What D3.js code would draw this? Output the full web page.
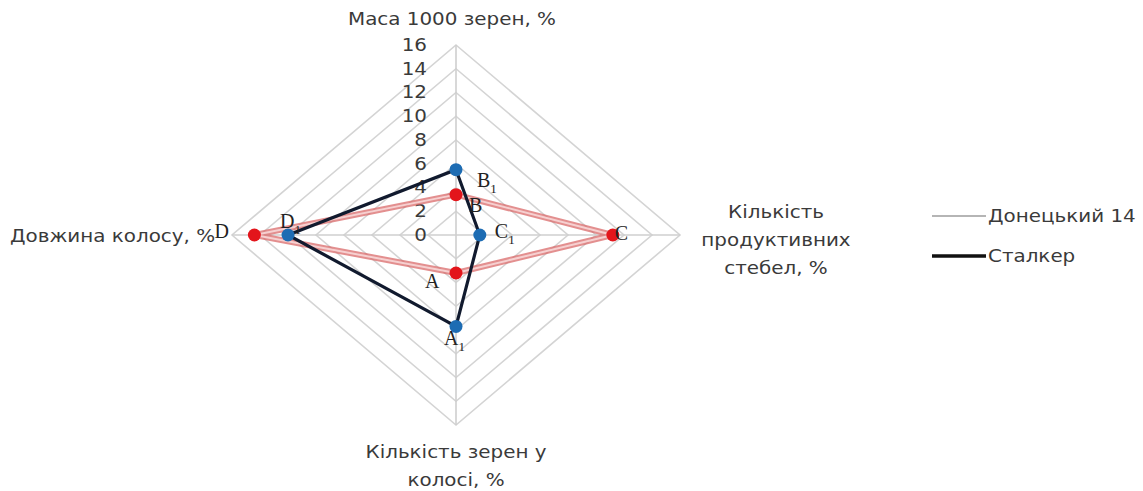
<!DOCTYPE html>
<html><head><meta charset="utf-8">
<script src="https://cdn.jsdelivr.net/npm/d3@7"></script>
<style>body{margin:0;background:#fff}svg{display:block}</style>
</head><body>
<script>
const categories = ["Маса 1000 зерен, %", "Кількість продуктивних стебел, %", "Кількість зерен у колосі, %", "Довжина колосу, %"];
const seriesNames = ["Донецький 14", "Сталкер"];
const doneckyi = [3.4, 11.2, 3.2, 14.4];
const stalker = [5.5, 1.7, 7.7, 12.0];
const tickValues = [0, 2, 4, 6, 8, 10, 12, 14, 16];
const pointLabelsRed = ["B", "C", "A", "D"];
const pointLabelsBlue = ["B", "C", "A", "D"];

const W = 1143, H = 491;
const cx = 456, cy = 235;
const SX = 1.17; // horizontal stretch of text seen in the reference
const svg = d3.select("body").append("svg").attr("width", W).attr("height", H);
const rx = d3.scaleLinear().domain([0, 16]).range([0, 224]);
const ry = d3.scaleLinear().domain([0, 16]).range([0, 190]);
const dirs = [[0, -1], [1, 0], [0, 1], [-1, 0]];
const pt = (i, v) => [cx + dirs[i][0] * rx(v), cy + dirs[i][1] * ry(v)];
const sans = "'DejaVu Sans', Verdana, sans-serif";
const serif = "'Liberation Serif', 'DejaVu Serif', serif";
const txtColor = "#3a3a3a";

// stretched text helper
const sText = (parent, x, y, anchor, size) => parent.append("g")
  .attr("transform", `translate(${x},${y}) scale(${SX},1)`)
  .append("text").attr("x", 0).attr("y", 0).attr("text-anchor", anchor)
  .attr("font-family", sans).attr("font-size", size).attr("fill", txtColor);

const g = svg.append("g");
tickValues.slice(1).forEach(t => {
  g.append("path").attr("d", d3.line()(d3.range(4).map(i => pt(i, t))) + "Z")
    .attr("fill", "none").attr("stroke", "#d4d4d4").attr("stroke-width", 1.6);
});
d3.range(4).forEach(i => {
  const [x, y] = pt(i, 16);
  g.append("line").attr("x1", cx).attr("y1", cy).attr("x2", x).attr("y2", y)
    .attr("stroke", "#cfcfcf").attr("stroke-width", 1.6);
});
tickValues.forEach(t => {
  sText(g, cx - 29, pt(0, t)[1], "end", 17).attr("dy", "0.35em").text(t);
});

const line = d3.line().curve(d3.curveLinearClosed);
const redPts = doneckyi.map((v, i) => pt(i, v));
const bluePts = stalker.map((v, i) => pt(i, v));

g.append("path").attr("d", line(redPts)).attr("fill", "none")
  .attr("stroke", "#d96a6a").attr("stroke-width", 6).attr("stroke-opacity", 0.75).attr("stroke-linejoin", "round");
g.append("path").attr("d", line(redPts)).attr("fill", "none")
  .attr("stroke", "#f6d0d0").attr("stroke-width", 2).attr("stroke-linejoin", "round");
g.append("path").attr("d", line(bluePts)).attr("fill", "none")
  .attr("stroke", "#111a2e").attr("stroke-width", 3.2).attr("stroke-linejoin", "miter");

redPts.forEach(([x, y]) => g.append("circle").attr("cx", x).attr("cy", y).attr("r", 6.5).attr("fill", "#e3151b"));
bluePts.forEach(([x, y]) => g.append("circle").attr("cx", x).attr("cy", y).attr("r", 6.5).attr("fill", "#1d6cb3"));

const redLabelOffsets = [[13, 10], [2, -2], [-31, 8], [-40, -4]];
const blueLabelOffsets = [[21, 10], [15, -4], [-12, 12], [-8, -14]];
redPts.forEach(([x, y], i) => {
  g.append("text").attr("x", x + redLabelOffsets[i][0]).attr("y", y + redLabelOffsets[i][1]).attr("dy", "0.35em")
    .attr("font-family", serif).attr("font-size", 20).attr("fill", "#222").text(pointLabelsRed[i]);
});
bluePts.forEach(([x, y], i) => {
  const t = g.append("text").attr("x", x + blueLabelOffsets[i][0]).attr("y", y + blueLabelOffsets[i][1]).attr("dy", "0.35em")
    .attr("font-family", serif).attr("font-size", 20).attr("fill", "#222");
  t.append("tspan").text(pointLabelsBlue[i]);
  t.append("tspan").attr("font-size", 13).attr("dy", 6).text("1");
});

const catLabel = (lines, x, y, anchor) => {
  const t = sText(svg, x, y, anchor, 17);
  lines.forEach((l, k) => t.append("tspan").attr("x", 0).attr("dy", k === 0 ? 0 : 28).text(l));
};
catLabel([categories[0]], 452, 25, "middle");
catLabel(["Кількість", "продуктивних", "стебел, %"], 776, 218, "middle");
catLabel(["Кількість зерен у", "колосі, %"], 456, 458, "middle");
catLabel([categories[3]], 10, 242, "start");

const leg = svg.append("g");
const legColors = ["#b5b5b5", "#111"];
const legWidths = [2, 3.5];
seriesNames.forEach((n, i) => {
  const y = 216 + i * 40;
  leg.append("line").attr("x1", 932).attr("x2", 986).attr("y1", y).attr("y2", y)
    .attr("stroke", legColors[i]).attr("stroke-width", legWidths[i]);
  sText(leg, 988, y, "start", 17).attr("dy", "0.35em").text(n);
});
</script>
</body></html>
